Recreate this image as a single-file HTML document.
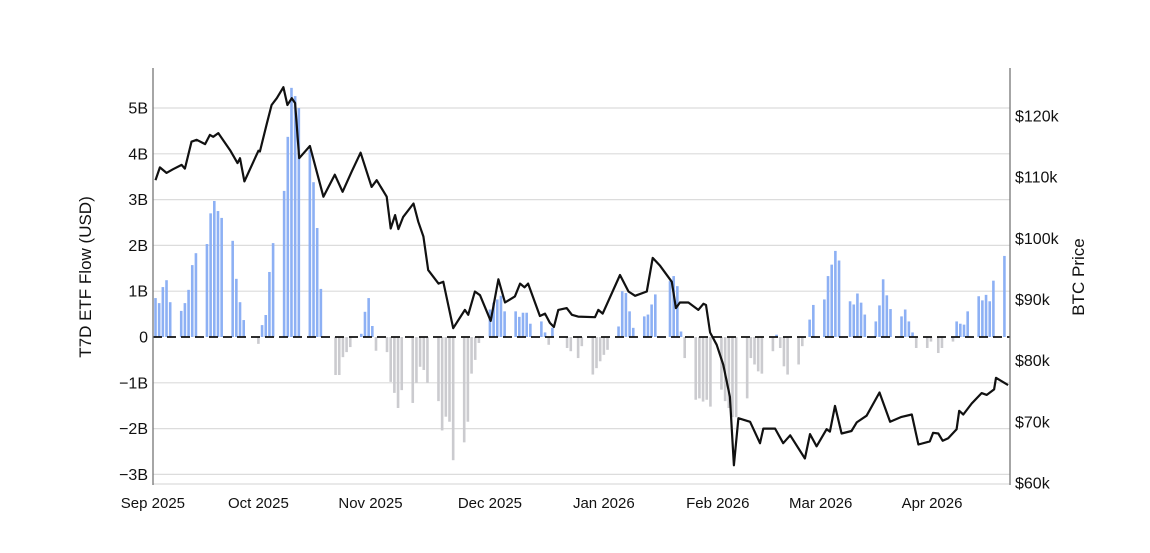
<!DOCTYPE html>
<html><head><meta charset="utf-8"><style>
html,body{margin:0;padding:0;background:#fff;}
svg{display:block;font-family:"Liberation Sans",sans-serif;}
</style></head><body>
<svg id="chart" width="1150" height="553" viewBox="0 0 1150 553">
<g id="grid"></g>
<g id="bars"></g>
<g id="axes"></g>
<path id="price" fill="none" stroke="#111" stroke-width="2.2" stroke-linejoin="round"/>
<text transform="translate(91,277) rotate(-90)" text-anchor="middle" font-size="17" fill="#111">T7D ETF Flow (USD)</text>
<text transform="translate(1084,277) rotate(-90)" text-anchor="middle" font-size="17" fill="#111">BTC Price</text>
</svg>
<script>
// Weekly weekday flows (Mon-Fri) in billions USD, starting week of Sep 1 2025
const flowWeeks = [
 [0.85,0.74,1.09,1.24,0.76],[0.57,0.74,1.03,1.57,1.83],[2.03,2.7,2.97,2.75,2.6],[2.1,1.27,0.76,0.37,0],
 [-0.15,0.26,0.48,1.42,2.05],[3.19,4.37,5.44,5.26,5.0],[4.08,3.38,2.38,1.05,0],[-0.83,-0.83,-0.44,-0.33,-0.22],
 [0.07,0.55,0.85,0.24,-0.3],[-0.33,-0.98,-1.22,-1.55,-1.16],[-1.44,-1.0,-0.65,-0.72,-1.0],[-1.4,-2.04,-1.74,-1.85,-2.69],
 [-2.3,-1.85,-0.8,-0.5,-0.13],[0.6,0.75,0.82,0.9,0.56],[0.56,0.44,0.53,0.53,0.29],[0.34,0.1,-0.17,0.2,0],
 [-0.24,-0.31,0,-0.46,-0.2],[-0.82,-0.68,-0.53,-0.39,-0.28],[0.23,1.0,0.96,0.56,0.2],[0.45,0.49,0.71,0.93,0],
 [1.22,1.33,1.11,0.12,-0.46],[-1.37,-1.34,-1.41,-1.37,-1.52],[-1.15,-1.4,-1.55,-1.75,-1.75],[-1.34,-0.46,-0.6,-0.75,-0.8],
 [-0.31,0.05,-0.24,-0.64,-0.82],[-0.6,-0.2,0,0.38,0.7],[0.82,1.33,1.58,1.88,1.67],[0.78,0.71,0.95,0.75,0.49],
 [0.34,0.69,1.26,0.91,0.61],[0.45,0.6,0.34,0.1,-0.24],[-0.24,-0.1,0,-0.35,-0.24],[-0.1,0.34,0.29,0.27,0.56],
 [0.89,0.8,0.92,0.78,1.23],[1.77]
];
// BTC price (thousands USD) by day offset from Sep 1 2025
const priceDays = [0,1.2,3,4.8,7.1,8,9.8,11.2,13.5,14.8,15.7,17.1,20.3,22.3,23,24.2,28,28.4,30.3,31.6,33,34.8,35.9,37.1,38,39.1,42,45.7,48.8,50.9,53.4,55.8,58.8,60.2,62.9,64,65.2,66.1,67.4,70.2,71.5,72.9,74.2,77,78.3,81,84.2,85.1,86.9,88.3,91.2,93.3,95.1,97.8,99.2,100.4,101.4,104.6,106,107.3,108.4,109.6,111.9,113.3,115,119.6,120.5,121.7,126.4,128.7,130.5,133.7,135.3,137.3,140.5,141.6,142.7,145,147.7,149.1,149.8,150.9,152.7,154.5,156.3,157.4,158.6,161.8,164.5,165.4,168.6,170.8,172.7,176.7,178.1,179.9,182.6,183.5,184.9,186.7,189.4,190.8,193.5,197,199.9,203,205.8,207.6,210.7,211.6,213,214.2,215.7,218,218.7,219.8,222.1,224.8,226.2,228.2,228.7,232];
const priceVals = [109.5,111.6,110.7,111.3,112.0,111.4,115.8,116.1,115.4,116.9,116.6,117.2,114.4,112.3,113.1,109.3,114.3,114.2,118.8,121.8,122.9,124.7,121.8,122.9,122.1,113.1,115.1,106.8,110.4,107.6,110.9,114.0,108.4,109.5,106.8,101.6,103.8,101.5,103.5,105.7,102.7,100.3,94.8,92.6,92.9,85.3,88.3,87.5,91.3,90.7,86.5,93.3,89.5,90.5,92.6,92.0,92.6,87.3,87.7,86.2,85.5,88.3,88.6,87.5,87.2,87.1,88.3,87.7,94.0,91.3,90.6,91.3,96.8,95.5,92.9,88.6,89.5,89.5,88.3,89.3,89.1,84.6,82.6,79.3,74.1,62.9,70.6,70.0,66.5,68.9,68.9,66.5,67.8,64.0,68.0,66.0,68.8,68.4,72.6,68.1,68.5,69.9,71.0,74.8,70.0,70.8,71.2,66.3,66.8,68.2,68.1,66.9,67.3,68.8,71.8,71.2,73.0,74.7,74.4,75.3,77.2,76.0];
const leftTicks = [5,4,3,2,1,0,-1,-2,-3];
const leftTickLabels = ["5B","4B","3B","2B","1B","0","−1B","−2B","−3B"];
const rightTicks = [120,110,100,90,80,70,60];
const rightTickLabels = ["$120k","$110k","$100k","$90k","$80k","$70k","$60k"];
const monthDays = [-0.7,28,58.5,91,122,153,181,211.3];
const monthLabels = ["Sep 2025","Oct 2025","Nov 2025","Dec 2025","Jan 2026","Feb 2026","Mar 2026","Apr 2026"];

const NS="http://www.w3.org/2000/svg";
const L=153,R=1010,T=68,B=485;
const xDay=d=>155.5+d*3.675;
const yFlow=v=>337-v*45.8;
const yPrice=p=>483-(p-60)*6.117;
function mk(tag,attrs,parent){const e=document.createElementNS(NS,tag);for(const k in attrs)e.setAttribute(k,attrs[k]);parent.appendChild(e);return e;}
const grid=document.getElementById('grid'),bars=document.getElementById('bars'),axes=document.getElementById('axes');

leftTicks.forEach((v,i)=>{
  if(v!==0){const g=mk('line',{x1:L,x2:R,y1:yFlow(v),y2:yFlow(v),stroke:'#dcdcdc','stroke-width':1.2},grid);
  
  }
  const t=mk('text',{x:148,y:yFlow(v)+5.5,'text-anchor':'end','font-size':16,fill:'#111'},axes);
  t.textContent=leftTickLabels[i];
  
  
});
const gb=mk('line',{x1:L,x2:R,y1:B-1,y2:B-1,stroke:'#dcdcdc','stroke-width':1.2},grid);


rightTicks.forEach((p,i)=>{
  const t=mk('text',{x:1015,y:yPrice(p)+5.5,'text-anchor':'start','font-size':16,fill:'#111'},axes);
  t.textContent=rightTickLabels[i];
  
  
});
monthDays.forEach((d,i)=>{
  const t=mk('text',{x:xDay(d),y:508,'text-anchor':'middle','font-size':15,fill:'#111'},axes);
  t.textContent=monthLabels[i];
  
  
});
const la=mk('line',{x1:L,x2:L,y1:T,y2:B,stroke:'#777','stroke-width':1.3},axes);


const ra=mk('line',{x1:R,x2:R,y1:T,y2:B,stroke:'#777','stroke-width':1.3},axes);



flowWeeks.forEach((wk,w)=>{
  wk.forEach((v,j)=>{
    if(v===0)return;
    const x=xDay(w*7+j), y0=yFlow(0), y1=yFlow(v);
    const r=mk('rect',{x:x-1.3,width:2.6,y:Math.min(y0,y1),height:Math.abs(y1-y0),fill:v>0?'#8db0f4':'#cbcbcf'},bars);
    
    
  });
});
const z=mk('line',{x1:L,x2:R,y1:337,y2:337,stroke:'#111','stroke-width':1.8,'stroke-dasharray':'9,5'},bars);



document.getElementById('price').setAttribute('d',priceDays.map((d,i)=>(i?'L':'M')+xDay(d).toFixed(1)+','+yPrice(priceVals[i]).toFixed(1)).join(''));
</script>
</body></html>
